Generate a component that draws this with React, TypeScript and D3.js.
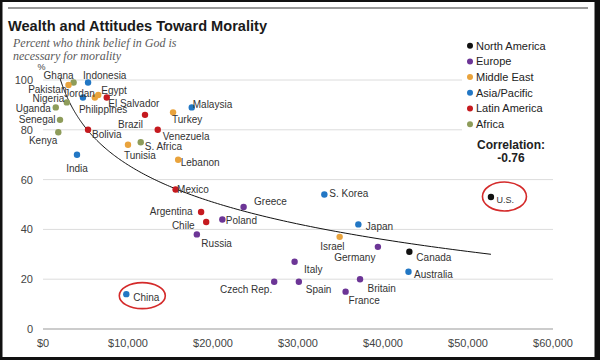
import React from 'react';
import { scaleLinear, line, range, mean, sum } from 'd3';

// values (GDP per capita in dollars, % who think belief in God is necessary)
const countries = [
  'Ghana', 'Pakistan', 'Indonesia', 'Philippines', 'Jordan', 'Egypt', 'El Salvador', 'Nigeria',
  'Uganda', 'Senegal', 'Kenya', 'India', 'Bolivia', 'Brazil', 'Venezuela', 'Turkey', 'Malaysia',
  'Tunisia', 'S. Africa', 'Lebanon', 'Mexico', 'Argentina', 'Chile', 'Greece', 'Poland', 'Russia',
  'S. Korea', 'Japan', 'Israel', 'Germany', 'Canada', 'Italy', 'Australia', 'Spain', 'Czech Rep.',
  'France', 'Britain', 'China', 'U.S.',
];
const regionOf = [
  'Africa', 'Middle East', 'Asia/Pacific', 'Asia/Pacific', 'Middle East', 'Middle East', 'Latin America', 'Africa',
  'Africa', 'Africa', 'Africa', 'Asia/Pacific', 'Latin America', 'Latin America', 'Latin America', 'Middle East', 'Asia/Pacific',
  'Middle East', 'Africa', 'Middle East', 'Latin America', 'Latin America', 'Latin America', 'Europe', 'Europe', 'Europe',
  'Asia/Pacific', 'Asia/Pacific', 'Middle East', 'Europe', 'North America', 'Europe', 'Asia/Pacific', 'Europe', 'Europe',
  'Europe', 'Europe', 'Asia/Pacific', 'North America',
];
const gdpPerCapita = [
  3600, 3000, 5300, 4700, 6100, 6500, 7500, 2800,
  1500, 2000, 1800, 4000, 5300, 12000, 13500, 15300, 17500,
  10000, 11500, 15900, 15600, 18600, 19200, 23600, 21100, 18100,
  33100, 37100, 34900, 39400, 43100, 29600, 43000, 30100, 27200,
  35600, 37300, 9800, 52700,
];
const believePct = [
  99, 98, 99, 93, 93, 94, 93, 91,
  89, 84, 79, 70, 80, 86, 80, 87, 89,
  74, 75, 68, 56, 47, 43, 49, 44, 38,
  54, 42, 37, 33, 31, 27, 23, 19, 19,
  15, 20, 14, 53,
];

const regions = ['North America', 'Europe', 'Middle East', 'Asia/Pacific', 'Latin America', 'Africa'];
const xTicks = [0, 10000, 20000, 30000, 40000, 50000, 60000];
const yTicks = [0, 20, 40, 60, 80, 100];
const correlation = '-0.76';
const circled = ['China', 'U.S.'];

const regionColor: Record<string, string> = {
  'North America': '#111111',
  Europe: '#6c3596',
  'Middle East': '#e9a33c',
  'Asia/Pacific': '#2277c4',
  'Latin America': '#c51a1f',
  Africa: '#8e9c5a',
};

// label placement: [anchor, dx, dy] relative to the dot
const labelPos: Record<string, [string, number, number]> = {
  Ghana: ['end', 0, -3],
  Pakistan: ['end', -2, 8],
  Indonesia: ['start', -5, -3],
  Philippines: ['start', -4, 16],
  Jordan: ['end', 0, -0.5],
  Egypt: ['start', 3, -0.5],
  'El Salvador': ['start', 1.5, 10],
  Nigeria: ['end', -2.5, 0],
  Uganda: ['end', -5, 4.5],
  Senegal: ['end', -4.5, 3.5],
  Kenya: ['end', -1, 12],
  India: ['middle', 0, 17],
  Bolivia: ['start', 4, 8],
  Brazil: ['end', -2, 13],
  Venezuela: ['start', 5, 10],
  Turkey: ['start', -1, 11],
  Malaysia: ['start', 1, 1],
  Tunisia: ['start', -4, 14],
  'S. Africa': ['start', 4, 8],
  Lebanon: ['start', 2.5, 6],
  Mexico: ['start', 1.5, 3],
  Greece: ['start', 10.5, -2],
  Argentina: ['end', -8.5, 3.5],
  Poland: ['start', 3.5, 4.8],
  Chile: ['end', -11.5, 7],
  Russia: ['start', 4.5, 12.5],
  'S. Korea': ['start', 5, 2],
  Japan: ['start', 7.5, 5.5],
  Israel: ['start', -19.5, 13],
  Germany: ['end', -2.5, 14.5],
  Canada: ['start', 7, 9.5],
  Italy: ['start', 9.5, 11.5],
  Australia: ['start', 5.5, 6.5],
  Spain: ['start', 7, 11.2],
  Britain: ['start', 7.5, 13],
  France: ['start', 3, 12.7],
  'Czech Rep.': ['end', -2, 11.2],
  China: ['start', 7, 7],
  'U.S.': ['start', 5.5, 5.5],
};
const ellipseOffset: Record<string, [number, number, number, number]> = {
  China: [16, 1.5, 23, 13],
  'U.S.': [13.5, -0.5, 22, 14.5],
};

const W = 600;
const H = 360;
const sans = '"Liberation Sans", Arial, sans-serif';

const App = () => {
  const x = scaleLinear().domain([0, 60000]).range([43, 553]);
  const y = scaleLinear().domain([0, 100]).range([329, 80]);

  // logarithmic trend line fitted to the points
  const lx = gdpPerCapita.map((g) => Math.log(g));
  const mx = mean(lx) as number;
  const my = mean(believePct) as number;
  const b = sum(lx, (v, i) => (v - mx) * (believePct[i] - my)) / sum(lx, (v) => (v - mx) ** 2);
  const a = my - b * mx;
  const minX = Math.min(...gdpPerCapita);
  const maxX = Math.max(...gdpPerCapita);
  const trendX = range(0, 201).map((i) => minX * Math.pow(maxX / minX, i / 200));
  const trendPath = line<number>()
    .x((d) => x(d))
    .y((d) => y(a + b * Math.log(d)))(trendX);

  return (
    <svg width={W} height={H} style={{ position: 'absolute', left: 0, top: 0 }} fontFamily={sans}>
      <defs>
        <clipPath id="plotClip">
          <rect x={0} y={y(100.8)} width={W} height={H} />
        </clipPath>
      </defs>
      <rect x={0} y={0} width={W} height={H} fill="#111" />
      <rect x={2.5} y={2} width={592} height={355} fill="#fff" />
      <line x1={8} x2={588} y1={8} y2={8} stroke="#777" strokeWidth={1.5} />

      <text x={8} y={30.5} fontSize={15} fontWeight="bold" fill="#1a1a1a"
        fontFamily={'"Liberation Sans Narrow", "Arial Narrow", ' + sans}
        textLength={259} lengthAdjust="spacingAndGlyphs">
        Wealth and Attitudes Toward Morality
      </text>
      <text x={13} y={47} fontSize={12} fontStyle="italic" fill="#5a5a5a" fontFamily='"Liberation Serif", serif'>
        Percent who think belief in God is
      </text>
      <text x={13} y={60} fontSize={12} fontStyle="italic" fill="#5a5a5a" fontFamily='"Liberation Serif", serif'>
        necessary for morality
      </text>
      <text x={41.5} y={70} fontSize={9} fill="#444" textAnchor="middle">%</text>

      {yTicks.map((t) => (
        <g key={'y' + t}>
          {t > 0 && <line x1={x(0)} x2={x(60000)} y1={y(t)} y2={y(t)} stroke="#dcdcdc" strokeWidth={1} />}
          <text x={33} y={y(t) + 4} fontSize={11} fill="#444" textAnchor="end">{t}</text>
        </g>
      ))}
      <line x1={x(0)} x2={x(60000)} y1={y(0)} y2={y(0)} stroke="#999" strokeWidth={1} />
      {xTicks.map((t) => (
        <text key={'x' + t} x={x(t)} y={347} fontSize={11} fill="#444" textAnchor="middle">
          {'$' + t.toLocaleString('en-US')}
        </text>
      ))}

      {/* legend sits on a white panel that hides the grid behind it */}
      <rect x={462} y={36} width={96} height={128} fill="#fff" />
      {regions.map((r, i) => (
        <g key={r}>
          <circle cx={470} cy={45.7 + i * 15.7} r={3} fill={regionColor[r]} />
          <text x={476} y={49.5 + i * 15.7} fontSize={11} fill="#222">{r}</text>
        </g>
      ))}
      <text x={511} y={148.5} fontSize={12} fontWeight="bold" fill="#222" textAnchor="middle">Correlation:</text>
      <text x={511} y={162} fontSize={12} fontWeight="bold" fill="#222" textAnchor="middle">{correlation}</text>

      <path d={trendPath ?? ''} fill="none" stroke="#111" strokeWidth={1} clipPath="url(#plotClip)" />

      {countries.map((c, i) => (
        <circle key={'d' + c} cx={x(gdpPerCapita[i])} cy={y(believePct[i])} r={3.2} fill={regionColor[regionOf[i]]} />
      ))}
      {countries.map((c, i) => {
        const [anchor, dx, dy] = labelPos[c];
        return (
          <text key={'l' + c} x={x(gdpPerCapita[i]) + dx} y={y(believePct[i]) + dy}
            fontSize={c === 'U.S.' ? 9 : 10} fill="#333" textAnchor={anchor}>
            {c}
          </text>
        );
      })}

      {circled.map((c) => {
        const i = countries.indexOf(c);
        const [ox, oy, rx, ry] = ellipseOffset[c];
        return (
          <ellipse key={'e' + c} cx={x(gdpPerCapita[i]) + ox} cy={y(believePct[i]) + oy} rx={rx} ry={ry}
            fill="none" stroke="#d42a2a" strokeWidth={1.6} />
        );
      })}
    </svg>
  );
};

export default App;
